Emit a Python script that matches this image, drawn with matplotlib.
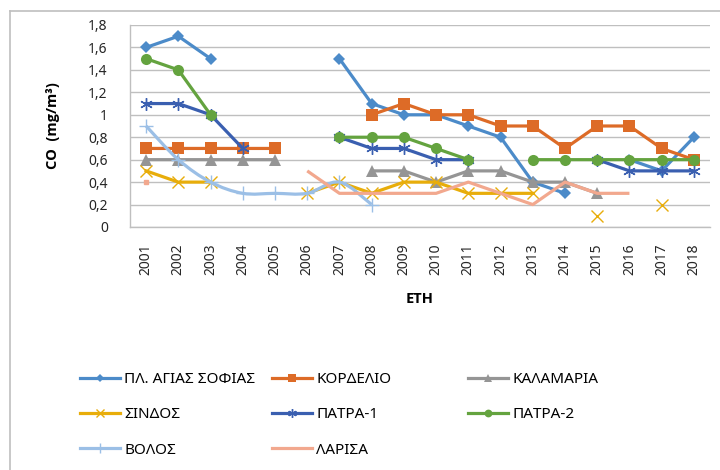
import numpy as np
import matplotlib
matplotlib.use("Agg")
import matplotlib.pyplot as plt
from matplotlib.path import Path
from matplotlib.patches import PathPatch
from matplotlib.lines import Line2D

plt.rcParams['font.family'] = ['Noto Sans', 'DejaVu Sans']

years = list(range(2001, 2019))
agia_sofia = [1.6, 1.7, 1.5, None, None, None, 1.5, 1.1, 1.0, 1.0, 0.9, 0.8, 0.4, 0.3, None, 0.6, 0.5, 0.8]
kordelio = [0.7, 0.7, 0.7, 0.7, 0.7, None, None, 1.0, 1.1, 1.0, 1.0, 0.9, 0.9, 0.7, 0.9, 0.9, 0.7, 0.6]
kalamaria = [0.6, 0.6, 0.6, 0.6, 0.6, None, None, 0.5, 0.5, 0.4, 0.5, 0.5, 0.4, 0.4, 0.3, None, None, None]
sindos = [0.5, 0.4, 0.4, None, None, 0.3, 0.4, 0.3, 0.4, 0.4, 0.3, 0.3, 0.3, None, 0.1, None, 0.2, None]
patra1 = [1.1, 1.1, 1.0, 0.7, None, None, 0.8, 0.7, 0.7, 0.6, 0.6, None, None, None, 0.6, 0.5, 0.5, 0.5]
patra2 = [1.5, 1.4, 1.0, None, None, None, 0.8, 0.8, 0.8, 0.7, 0.6, None, 0.6, 0.6, 0.6, 0.6, 0.6, 0.6]
volos = [0.9, 0.6, 0.4, 0.3, 0.3, 0.3, 0.4, 0.2, None, None, None, None, None, None, None, None, None, None]
larisa = [0.4, None, None, None, None, 0.5, 0.3, 0.3, 0.3, 0.3, 0.4, 0.3, 0.2, 0.4, 0.3, 0.3, None, None]

names = ['ΠΛ. ΑΓΙΑΣ ΣΟΦΙΑΣ', 'ΚΟΡΔΕΛΙΟ', 'ΚΑΛΑΜΑΡΙΑ', 'ΣΙΝΔΟΣ',
         'ΠΑΤΡΑ-1', 'ΠΑΤΡΑ-2', 'ΒΟΛΟΣ', 'ΛΑΡΙΣΑ']
series = [agia_sofia, kordelio, kalamaria, sindos, patra1, patra2, volos, larisa]
colors = ['#4C8BC9', '#DD6B27', '#959595', '#E8AD0A', '#3A5FB0', '#64A33F', '#9BBFE6', '#F2A88E']
markers = ['D', 's', '^', 'x', (6, 2, 0), 'o', '+', None]
msizes = [6.5, 8.5, 8, 8, 9, 8, 10, 0]

W, H = 720, 470
fig = plt.figure(figsize=(7.2, 4.7), dpi=100)

# chart border (only top/left visible in the crop)
fig.add_artist(Line2D([10 / W, 10 / W], [0, 1 - 11 / H], color='#BFBFBF', lw=1.2))
fig.add_artist(Line2D([10 / W, 1], [1 - 11 / H, 1 - 11 / H], color='#BFBFBF', lw=1.2))

ax = fig.add_axes([130 / W, 1 - 227 / H, 580 / W, 202 / H])
x = np.arange(len(years))


def smooth_path(xs, ys):
    # excel-like smoothed line (catmull-rom as cubic bezier)
    pts = np.column_stack([xs, ys])
    verts = [pts[0]]
    codes = [Path.MOVETO]
    n = len(pts)
    for i in range(n - 1):
        p0 = pts[i - 1] if i > 0 else pts[i]
        p1, p2 = pts[i], pts[i + 1]
        p3 = pts[i + 2] if i + 2 < n else pts[i + 1]
        verts += [p1 + (p2 - p0) / 6, p2 - (p3 - p1) / 6, p2]
        codes += [Path.CURVE4] * 3
    return Path(verts, codes)


handles = []
for i, (name, vals) in enumerate(zip(names, series)):
    y = np.array([np.nan if v is None else v for v in vals])
    c = colors[i]
    mk = markers[i]
    thin = mk in ('x', '+') or isinstance(mk, tuple)
    if name == 'ΒΟΛΟΣ':
        ok = ~np.isnan(y)
        ax.add_patch(PathPatch(smooth_path(x[ok], y[ok]), fill=False,
                               edgecolor=c, lw=2.3, zorder=2 + i * 0.1))
        ax.plot(x[ok], y[ok], ls='none', marker=mk, ms=msizes[i], mew=1,
                color=c, zorder=2 + i * 0.1)
    elif mk is None:
        ax.plot(x, y, color=c, lw=2.3, zorder=2 + i * 0.1, solid_capstyle='butt')
        # isolated values with no neighbours
        for j in range(len(y)):
            left = np.isnan(y[j - 1]) if j > 0 else True
            right = np.isnan(y[j + 1]) if j < len(y) - 1 else True
            if not np.isnan(y[j]) and left and right:
                ax.plot(x[j], y[j], marker='s', ms=3, color=c, zorder=2 + i * 0.1)
    else:
        ax.plot(x, y, color=c, lw=2.3, marker=mk, ms=msizes[i],
                mew=1.0 if thin else 0, mec=c, mfc=c, zorder=2 + i * 0.1)
    handles.append(Line2D([], [], color=c, lw=2.3, marker=mk,
                          ms=msizes[i] * 0.7 if mk else 0, mew=1.0 if thin else 0,
                          mec=c, mfc=c))

ax.set_xlim(-0.5, len(years) - 0.5)
ax.set_ylim(0, 1.8)
ax.set_yticks(np.arange(0, 1.81, 0.2))
ax.set_yticklabels([('%g' % v).replace('.', ',') for v in np.arange(0, 1.81, 0.2)])
ax.set_xticks(x)
ax.set_xticklabels([str(yr) for yr in years], rotation=90)
ax.tick_params(axis='both', length=0, labelsize=10, colors='#262626')
ax.tick_params(axis='y', pad=16)
ax.tick_params(axis='x', pad=12)
ax.grid(axis='y', color='#BFBFBF', lw=1)
ax.set_axisbelow(True)
for s in ['top', 'right']:
    ax.spines[s].set_visible(False)
for s in ['left', 'bottom']:
    ax.spines[s].set_color('#BFBFBF')
    ax.spines[s].set_linewidth(1)

bold_font = ['Open Sans', 'DejaVu Sans']
ax.set_ylabel('CO  (mg/m³)', fontsize=10.5, fontweight='bold', family=bold_font, labelpad=20)
ax.set_xlabel('ΕΤΗ', fontsize=10.5, fontweight='bold', family=bold_font, labelpad=12)

# legend: three equal-width columns, row-major order like excel
cols = [[0, 3, 6], [1, 4, 7], [2, 5]]
col_x = [80, 272, 468]
for cx, idx in zip(col_x, cols):
    fig.legend([handles[k] for k in idx], [names[k] for k in idx],
               loc='upper left', bbox_to_anchor=(cx / W, 1 - 372 / H),
               frameon=False, fontsize=11, handlelength=2.6, handletextpad=0.3,
               labelspacing=1.33, borderpad=0, borderaxespad=0)

fig.savefig('out.png', dpi=100)
